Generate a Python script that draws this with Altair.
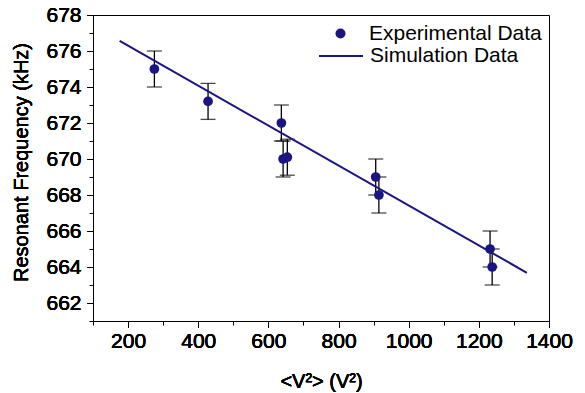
import altair as alt
import pandas as pd

# ---- data ----
exp_x = [275, 428, 637, 642, 654, 906, 915, 1232, 1238]
exp_y = [675.0, 673.2, 672.0, 670.0, 670.1, 669.0, 668.0, 665.0, 664.0]
exp_err = [1.0, 1.0, 1.0, 1.0, 1.0, 1.0, 1.0, 1.0, 1.0]

sim_x = [176, 1337]
sim_y = [676.56, 663.68]

x_major = [200, 400, 600, 800, 1000, 1200, 1400]
x_minor = [100, 300, 500, 700, 900, 1100, 1300]
y_major = [662, 664, 666, 668, 670, 672, 674, 676, 678]
y_minor = [661, 663, 665, 667, 669, 671, 673, 675, 677]

x_title = "<V²> (V²)"
y_title = "Resonant Frequency (kHz)"
exp_label = "Experimental Data"
sim_label = "Simulation Data"

NAVY = "#1b1582"
FONT = "Liberation Sans"
FS = 21

exp = pd.DataFrame({
    "x": exp_x,
    "y": exp_y,
    "lo": [y - e for y, e in zip(exp_y, exp_err)],
    "hi": [y + e for y, e in zip(exp_y, exp_err)],
    "series": [exp_label] * len(exp_x),
})
sim = pd.DataFrame({"x": sim_x, "y": sim_y, "series": [sim_label] * len(sim_x)})

xs = alt.Scale(domain=[100, 1400], nice=False, zero=False)
ys = alt.Scale(domain=[661, 678], nice=False, zero=False)

x_axis = alt.Axis(values=x_major, format="d", title=x_title, orient="bottom",
                  labelFlush=False, labelOverlap=False,
                  tickSize=6, labelPadding=3, titleY=66, titleBaseline="alphabetic")
y_axis = alt.Axis(values=y_major, format="d", title=y_title, orient="left",
                  labelFlush=False, labelOverlap=False,
                  tickSize=6, labelPadding=6, titleAngle=-90, titleX=-66, titleY=147,
                  titleBaseline="alphabetic", titleAlign="center")
x_axis_minor = alt.Axis(values=x_minor, labels=False, title=None, domain=False,
                        orient="bottom", tickSize=4)
y_axis_minor = alt.Axis(values=y_minor, labels=False, title=None, domain=False,
                        orient="left", tickSize=4)

base = alt.Chart(exp)

bars = base.mark_rule(color="black", strokeWidth=1.3).encode(
    x=alt.X("x:Q", scale=xs, axis=x_axis),
    y=alt.Y("lo:Q", scale=ys, axis=y_axis),
    y2="hi:Q",
)
cap_lo = base.mark_tick(color="black", size=15, thickness=1.3, orient="horizontal").encode(
    x=alt.X("x:Q", scale=xs, axis=x_axis),
    y=alt.Y("lo:Q", scale=ys, axis=y_axis),
)
cap_hi = base.mark_tick(color="black", size=15, thickness=1.3, orient="horizontal").encode(
    x=alt.X("x:Q", scale=xs, axis=x_axis),
    y=alt.Y("hi:Q", scale=ys, axis=y_axis),
)

line = alt.Chart(sim).mark_line(strokeWidth=2).encode(
    x=alt.X("x:Q", scale=xs, axis=x_axis),
    y=alt.Y("y:Q", scale=ys, axis=y_axis),
    stroke=alt.Stroke("series:N",
                      scale=alt.Scale(domain=[sim_label], range=[NAVY]),
                      legend=alt.Legend(title=None, orient="none", legendX=225, legendY=18,
                                        symbolType="stroke", symbolSize=1936,
                                        symbolStrokeWidth=2, labelOffset=6, padding=0,
                                        labelFontSize=FS, labelFont=FONT, labelLimit=0,
                                        labelColor="black")),
)

points = base.mark_circle(size=95, opacity=1).encode(
    x=alt.X("x:Q", scale=xs, axis=x_axis),
    y=alt.Y("y:Q", scale=ys, axis=y_axis),
    color=alt.Color("series:N",
                    scale=alt.Scale(domain=[exp_label], range=[NAVY]),
                    legend=alt.Legend(title=None, orient="none", legendX=237, legendY=8,
                                      symbolType="circle", symbolSize=100,
                                      symbolOpacity=1, labelOffset=18, padding=0,
                                      labelFontSize=FS, labelFont=FONT, labelLimit=0,
                                      labelColor="black")),
)

minor = alt.Chart(exp).mark_point(opacity=0).encode(
    x=alt.X("x:Q", scale=xs, axis=x_axis_minor),
    y=alt.Y("y:Q", scale=ys, axis=y_axis_minor),
)

chart = alt.layer(minor, bars, cap_lo, cap_hi, line, points).resolve_axis(
    x="independent", y="independent"
).properties(
    width=456, height=306,
    background="white",
    autosize=alt.AutoSizeParams(type="none"),
    padding={"left": 93, "top": 15, "right": 36, "bottom": 72},
).configure_view(
    stroke="black", strokeWidth=1
).configure_axis(
    grid=False, domainColor="black", domainWidth=1, tickColor="black", tickWidth=1,
    labelFont=FONT, labelFontSize=FS, labelColor="black",
    titleFont=FONT, titleFontSize=20, titleColor="black", titleFontWeight="normal",
)

chart.save("out.html", embed_options={"renderer": "svg", "actions": False})
